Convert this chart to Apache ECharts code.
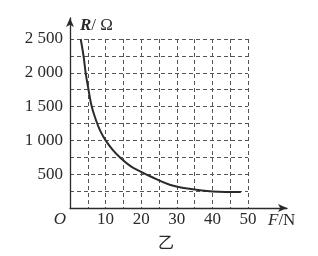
<!DOCTYPE html>
<html>
<head>
<meta charset="utf-8">
<script src="https://cdn.jsdelivr.net/npm/echarts@6/dist/echarts.min.js"></script>
<style>
  html, body { margin: 0; padding: 0; background: #fff; }
  #chart { width: 318px; height: 256px; }
</style>
</head>
<body>
<div id="chart"></div>
<script>
// F in N, R in ohm
var forceN = [3.0, 3.8, 4.4, 5.2, 6.1, 7.3, 8.5, 10, 12, 14, 17, 20, 22.5, 28, 34, 40, 48];
var resistance = [2500, 2250, 2000, 1750, 1500, 1300, 1140, 1000, 860, 750, 620, 535, 470, 345, 280, 245, 235];
var xTicks = [10, 20, 30, 40, 50];
var yTicks = [500, 1000, 1500, 2000, 2500];

var ink = '#2a2a2a';
var serif = '"Liberation Serif", "DejaVu Serif", serif';
var fs = 17;

var chart = echarts.init(document.getElementById('chart'));

function fmtThousands(v) {
  return v >= 1000 ? Math.floor(v / 1000) + ' ' + String(v % 1000).padStart(3, '0') : String(v);
}

var option = {
  animation: false,
  title: {
    text: '乙',
    left: 153,
    top: 229,
    textStyle: { fontFamily: '"Noto Sans CJK SC"', fontSize: 16, fontWeight: 'normal', color: ink }
  },
  grid: [
    { left: 70, top: 39, width: 178, height: 169 },
    { left: 70, top: 18, width: 217, height: 190 }
  ],
  xAxis: [
    {
      type: 'value', gridIndex: 0, min: 0, max: 50, interval: 5,
      axisLine: { show: false }, axisTick: { show: false },
      axisLabel: {
        margin: 3, color: ink, fontFamily: serif, fontSize: fs,
        formatter: function (v) {
          if (v === 0) return '{o|O}';
          return xTicks.indexOf(v) >= 0 ? String(v) : '';
        },
        rich: { o: { fontStyle: 'italic', fontFamily: serif, fontSize: fs, color: ink, padding: [0, 20, 0, 0] } }
      },
      splitLine: { show: true, lineStyle: { color: '#555', width: 1, type: [4, 3] } }
    },
    {
      type: 'value', gridIndex: 1, min: 0, max: 1,
      axisLine: { show: true, symbol: ['none', 'arrow'], symbolSize: [6, 9], lineStyle: { color: ink, width: 1.3 } },
      axisTick: { show: false }, axisLabel: { show: false }, splitLine: { show: false },
      name: '{i|F}/N', nameLocation: 'end', nameGap: -19,
      nameTextStyle: {
        align: 'left', verticalAlign: 'top', padding: [4, 0, 0, 0],
        fontFamily: serif, fontSize: fs, color: ink,
        rich: { i: { fontStyle: 'italic', fontFamily: serif, fontSize: fs, color: ink } }
      }
    }
  ],
  yAxis: [
    {
      type: 'value', gridIndex: 0, min: 0, max: 2500, interval: 250,
      axisLine: { show: false }, axisTick: { show: false },
      axisLabel: {
        margin: 7, color: ink, fontFamily: serif, fontSize: fs,
        formatter: function (v) { return yTicks.indexOf(v) >= 0 ? fmtThousands(v) : ''; }
      },
      splitLine: { show: true, lineStyle: { color: '#555', width: 1, type: [4, 3] } }
    },
    {
      type: 'value', gridIndex: 1, min: 0, max: 1,
      axisLine: { show: true, symbol: ['none', 'arrow'], symbolSize: [6, 9], lineStyle: { color: ink, width: 1.3 } },
      axisTick: { show: false }, axisLabel: { show: false }, splitLine: { show: false },
      name: '{i|R}/ Ω', nameLocation: 'end', nameGap: -8,
      nameTextStyle: {
        align: 'left', verticalAlign: 'middle', padding: [0, 0, 0, 10],
        fontFamily: serif, fontSize: fs, color: ink,
        rich: { i: { fontStyle: 'italic', fontWeight: 'bold', fontFamily: serif, fontSize: fs, color: ink } }
      }
    }
  ],
  series: [
    {
      type: 'line', xAxisIndex: 0, yAxisIndex: 0,
      data: forceN.map(function (f, i) { return [f, resistance[i]]; }),
      smooth: 0.4, showSymbol: false,
      lineStyle: { color: '#2b2b2b', width: 2 }
    }
  ]
};

chart.setOption(option);
</script>
</body>
</html>
